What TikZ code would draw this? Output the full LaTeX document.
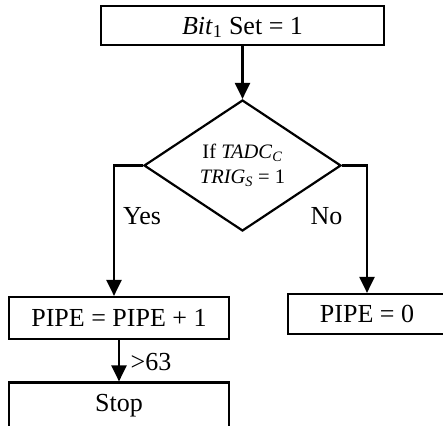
\documentclass[tikz,border=0pt]{standalone}
\usepackage{fontspec}
\setmainfont{Liberation Serif}
\usetikzlibrary{arrows.meta,shapes.geometric}

\tikzset{
  flow/.style={line width=2.2pt},
  arr/.style={flow,-{Triangle[length=16pt,width=15pt]}},
  stepbox/.style={draw,flow,rectangle,inner sep=0pt,
    font=\fontsize{26}{30}\selectfont,text height=17.2pt,text depth=0pt},
  decision/.style={draw,flow,diamond,inner sep=0pt,align=center,
    font=\fontsize{20.5}{24}\selectfont,minimum width=197pt,minimum height=131pt},
  lbl/.style={inner sep=0pt,font=\fontsize{26}{30}\selectfont,
    text height=17.2pt,text depth=0pt}
}

\begin{document}
\begin{tikzpicture}[x=1pt,y=-1pt]
  \useasboundingbox (0,0) rectangle (443,425);

  % process steps
  \node[stepbox,minimum width=283pt,minimum height=39pt] (start) at (242.5,25.5)
    {\textit{Bit}\textsubscript{1} Set = 1};
  \node[decision] (dec) at (242.5,165.5)
    {If \textit{TADC}\textsubscript{\textit{C}}\\[1pt]\textit{TRIG}\textsubscript{\textit{S}} = 1};
  \node[stepbox,minimum width=220pt,minimum height=42pt] (inc) at (119,318)
    {PIPE = PIPE + 1};
  \node[stepbox,minimum width=158pt,minimum height=40pt] (zero) at (367,314)
    {PIPE = 0};
  \node[stepbox,minimum width=220pt,minimum height=48pt,text depth=7pt] (stop) at (119,406.5)
    {Stop};

  % connectors
  \draw[arr] (start.south) -- (dec.north);
  \draw[arr] (dec.west) -| ([xshift=-5pt]inc.north);
  \draw[arr] (dec.east) -| (zero.north);
  \draw[arr] (inc.south) -- (stop.north);

  % branch labels
  \node[lbl] (yes) at (142,215.5) {Yes};
  \node[lbl] (no) at (326.5,215.5) {No};
  \node[lbl] (over) at (151,362) {>63};
\end{tikzpicture}
\end{document}
